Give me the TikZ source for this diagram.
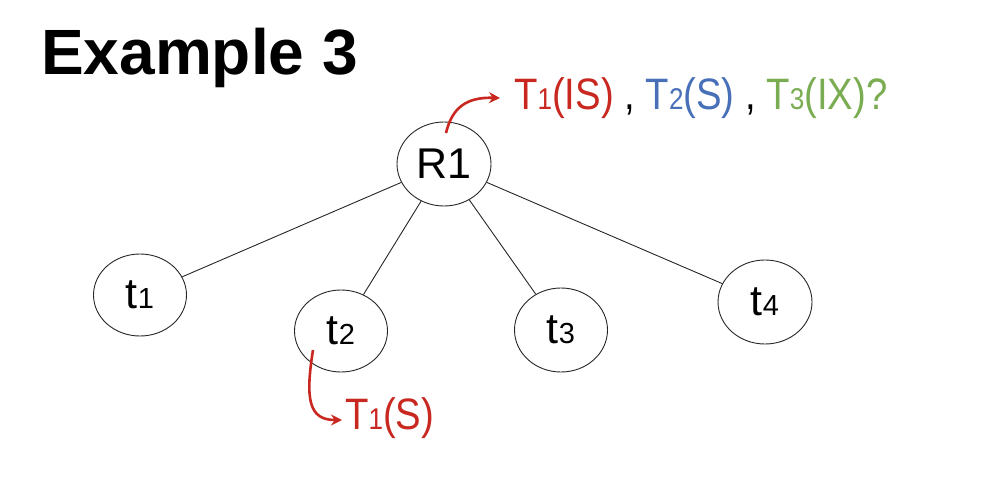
\documentclass[tikz,border=0pt]{standalone}
\usepackage{fontspec}
\setmainfont{Liberation Sans}
\newfontfamily\narrowsans[FakeStretch=0.87]{Liberation Sans}
\usetikzlibrary{shapes.geometric,arrows.meta,calc}

\definecolor{lockred}{RGB}{200,40,32}
\definecolor{lockblue}{RGB}{72,112,184}
\definecolor{lockgreen}{RGB}{122,172,82}

% subscripted item name, digit sits on the baseline in a smaller size
\newcommand{\itemsub}[2]{#1{\fontsize{29}{29}\selectfont #2}}
\newcommand{\locksub}[2]{#1{\fontsize{30}{30}\selectfont #2}}

\tikzset{
  treenode/.style={draw=black!85, line width=0.9pt, ellipse, inner sep=0pt,
    minimum width=93pt, minimum height=82pt, font=\fontsize{43}{43}\selectfont},
  treeedge/.style={draw=black!85, line width=0.9pt},
  lockarrow/.style={draw=lockred, line width=2.6pt,
    -{Stealth[length=11pt,width=11pt]}},
  locklabel/.style={inner sep=0pt, anchor=base west, font=\narrowsans\fontsize{44}{44}\selectfont}
}

\begin{document}
\begin{tikzpicture}[x=1pt,y=-1pt]
  \useasboundingbox (0,0) rectangle (992,492);

  % title
  \node[anchor=base west, inner sep=0pt, font=\bfseries\fontsize{64}{64}\selectfont]
    (title) at (41,75) {Example 3};

  % tree nodes
  \node[treenode, minimum width=94pt, minimum height=84pt] (R1) at (444,164) {R1};
  \node[treenode] (t1) at (140,295) {\itemsub{t}{1}};
  \node[treenode] (t2) at (341,331) {\itemsub{t}{2}};
  \node[treenode, minimum height=84pt] (t3) at (561,330) {\itemsub{t}{3}};
  \node[treenode, minimum width=94pt, minimum height=84pt] (t4) at (765,302) {\itemsub{t}{4}};

  % tree edges
  \draw[treeedge] (R1) -- (t1);
  \draw[treeedge] (R1) -- (t2);
  \draw[treeedge] (R1) -- (t3);
  \draw[treeedge] (R1) -- (t4);

  % locks held on R1
  \node[locklabel] (rootlocks) at (514,110)
    {\textcolor{lockred}{\locksub{T}{1}(IS)} , \textcolor{lockblue}{\locksub{T}{2}(S)} , \textcolor{lockgreen}{\locksub{T}{3}(IX)?}};

  % locks held on t2
  \node[locklabel, text=lockred] (leaflocks) at (345,429) {\locksub{T}{1}(S)};

  % lock arrows
  \coordinate (rootstart) at ($(R1.center)+(2,-31)$);
  \coordinate (rootend) at ($(rootlocks.base west)+(-14,-12)$);
  \draw[lockarrow] (rootstart) .. controls ($(rootstart)+(6,-25)$) and ($(rootstart)+(20,-36)$) .. (rootend);

  \coordinate (leafstart) at ($(t2.center)+(-28,19)$);
  \coordinate (leafend) at ($(leaflocks.base west)+(-3,-9)$);
  \draw[lockarrow] (leafstart) .. controls ($(leafstart)+(-8,50)$) and ($(leafstart)+(-4,70)$) .. (leafend);
\end{tikzpicture}
\end{document}
